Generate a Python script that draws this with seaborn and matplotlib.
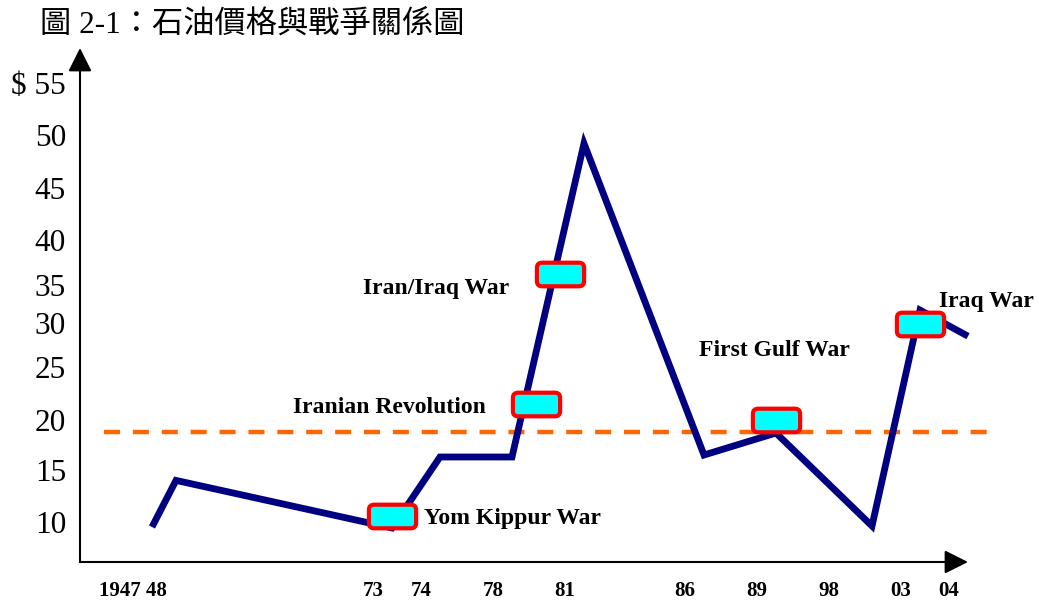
import numpy as np
import matplotlib
matplotlib.use("Agg")
import matplotlib.pyplot as plt
from matplotlib.path import Path
import seaborn as sns
import pandas as pd

# ---------------- data ----------------
# x slot of each point on the time axis (irregular spacing as in the picture)
point_slots = [2, 3, 12, 14, 17, 20, 25, 28, 32, 34, 36]
oil_price = [9.5, 14.0, 9.4, 16.3, 16.3, 49.2, 16.5, 18.7, 9.6, 31.7, 28.5]

# war markers
war_slots = [12, 18, 19, 28, 34]
war_price = [10.6, 21.5, 36.2, 20.0, 29.9]

# annotation labels
war_names = ["Yom Kippur War", "Iranian Revolution", "Iran/Iraq War",
             "First Gulf War", "Iraq War"]
label_slots = [13.33, 15.9, 16.9, 24.8, 34.8]
label_price = [10.3, 21.2, 34.5, 26.9, 32.8]
label_align = ["left", "right", "right", "left", "left"]

# average reference level
avg_price = 18.8
avg_span = [0.0, 36.8]

# axis ticks
xtick_slots = [2, 12, 14, 17, 20, 25, 28, 31, 34, 36]
xtick_labels = ["1947 48", "73", "74", "78", "81", "86", "89", "98", "03", "04"]
ytick_values = [10, 15, 20, 25, 30, 35, 40, 45, 50, 55]
ytick_labels = ["10", "15", "20", "25", "30", "35", "40", "45", "50", "$ 55"]

# the value axis in the picture is not evenly spaced: value -> relative height
scale_vals = np.array([0, 10, 15, 20, 25, 30, 35, 40, 45, 50, 55, 70], float)
scale_pos = np.array([-60, 40, 92, 142, 195, 239, 277, 322, 374, 427, 479, 635], float)

title = "圖 2-1：石油價格與戰爭關係圖"

# ---------------- style ----------------
sns.set_theme(style="white")
plt.rcParams["font.family"] = ["Liberation Serif", "Noto Sans CJK TC", "DejaVu Sans"]

fig = plt.figure(figsize=(10.39, 6.06), dpi=100)
ax = fig.add_axes([80 / 1039, 44 / 606, 888 / 1039, 514 / 606])


def fwd(v):
    return np.interp(v, scale_vals, scale_pos)


def inv(p):
    return np.interp(p, scale_pos, scale_vals)


ax.set_yscale("function", functions=(fwd, inv))

df = pd.DataFrame({"slot": point_slots, "price": oil_price})
sns.lineplot(data=df, x="slot", y="price", ax=ax, sort=False, estimator=None,
             color="#000080", linewidth=4.9, zorder=3, clip_on=False)
for ln in ax.lines:
    ln.set_solid_joinstyle("miter")
    ln.set_solid_capstyle("butt")

# reference dashed line
ax.plot(avg_span, [avg_price, avg_price], color="#FF6600", linewidth=3.2,
        dashes=(3.6, 2.9), zorder=2, clip_on=False)

# rounded-rectangle marker
r = 0.22
hh = 0.5
verts = [(-1 + r, -hh), (1 - r, -hh), (1, -hh), (1, -hh + r), (1, hh - r), (1, hh),
         (1 - r, hh), (-1 + r, hh), (-1, hh), (-1, hh - r), (-1, -hh + r), (-1, -hh),
         (-1 + r, -hh), (-1 + r, -hh)]
codes = [Path.MOVETO, Path.LINETO, Path.CURVE3, Path.CURVE3, Path.LINETO, Path.CURVE3,
         Path.CURVE3, Path.LINETO, Path.CURVE3, Path.CURVE3, Path.LINETO, Path.CURVE3,
         Path.CURVE3, Path.CLOSEPOLY]
box_marker = Path(verts, codes)

wdf = pd.DataFrame({"slot": war_slots, "price": war_price})
sns.scatterplot(data=wdf, x="slot", y="price", ax=ax, marker=box_marker, s=34 ** 2,
                color="#00FFFF", edgecolor="#FF0000", linewidth=3.0, zorder=4,
                clip_on=False, legend=False)

for name, xs, ys, ha in zip(war_names, label_slots, label_price, label_align):
    ax.text(xs, ys, name, ha=ha, va="center", fontsize=17, fontweight="bold",
            color="black", zorder=5)

# axes limits and ticks
ax.set_xlim(-1, 36)
ax.set_ylim(inv(0), inv(514))
ax.set_xticks([s - 0.79 for s in xtick_slots])
ax.set_xticklabels(xtick_labels, fontweight="bold", fontsize=15)
ax.set_yticks(ytick_values)
ax.set_yticklabels(ytick_labels, fontsize=22.5)
ax.tick_params(axis="x", length=0, pad=14, colors="black")
ax.tick_params(axis="y", length=0, pad=10, colors="black")
ax.set_xlabel("")
ax.set_ylabel("")
ax.grid(False)
for sp in ax.spines.values():
    sp.set_visible(False)

arrow = dict(arrowstyle="-|>,head_length=0.4,head_width=0.2", color="black",
             lw=1.5, mutation_scale=36, shrinkA=0, shrinkB=0)
ax.annotate("", xy=(1, 0), xytext=(0, 0), xycoords="axes fraction",
            textcoords="axes fraction", arrowprops=arrow, annotation_clip=False)
ax.annotate("", xy=(0, 1), xytext=(0, 0), xycoords="axes fraction",
            textcoords="axes fraction", arrowprops=arrow, annotation_clip=False)

fig.text(40 / 1039, 1 - 25 / 606, title, ha="left", va="center", fontsize=22.5,
         color="black")

fig.savefig("out.png", dpi=100)
